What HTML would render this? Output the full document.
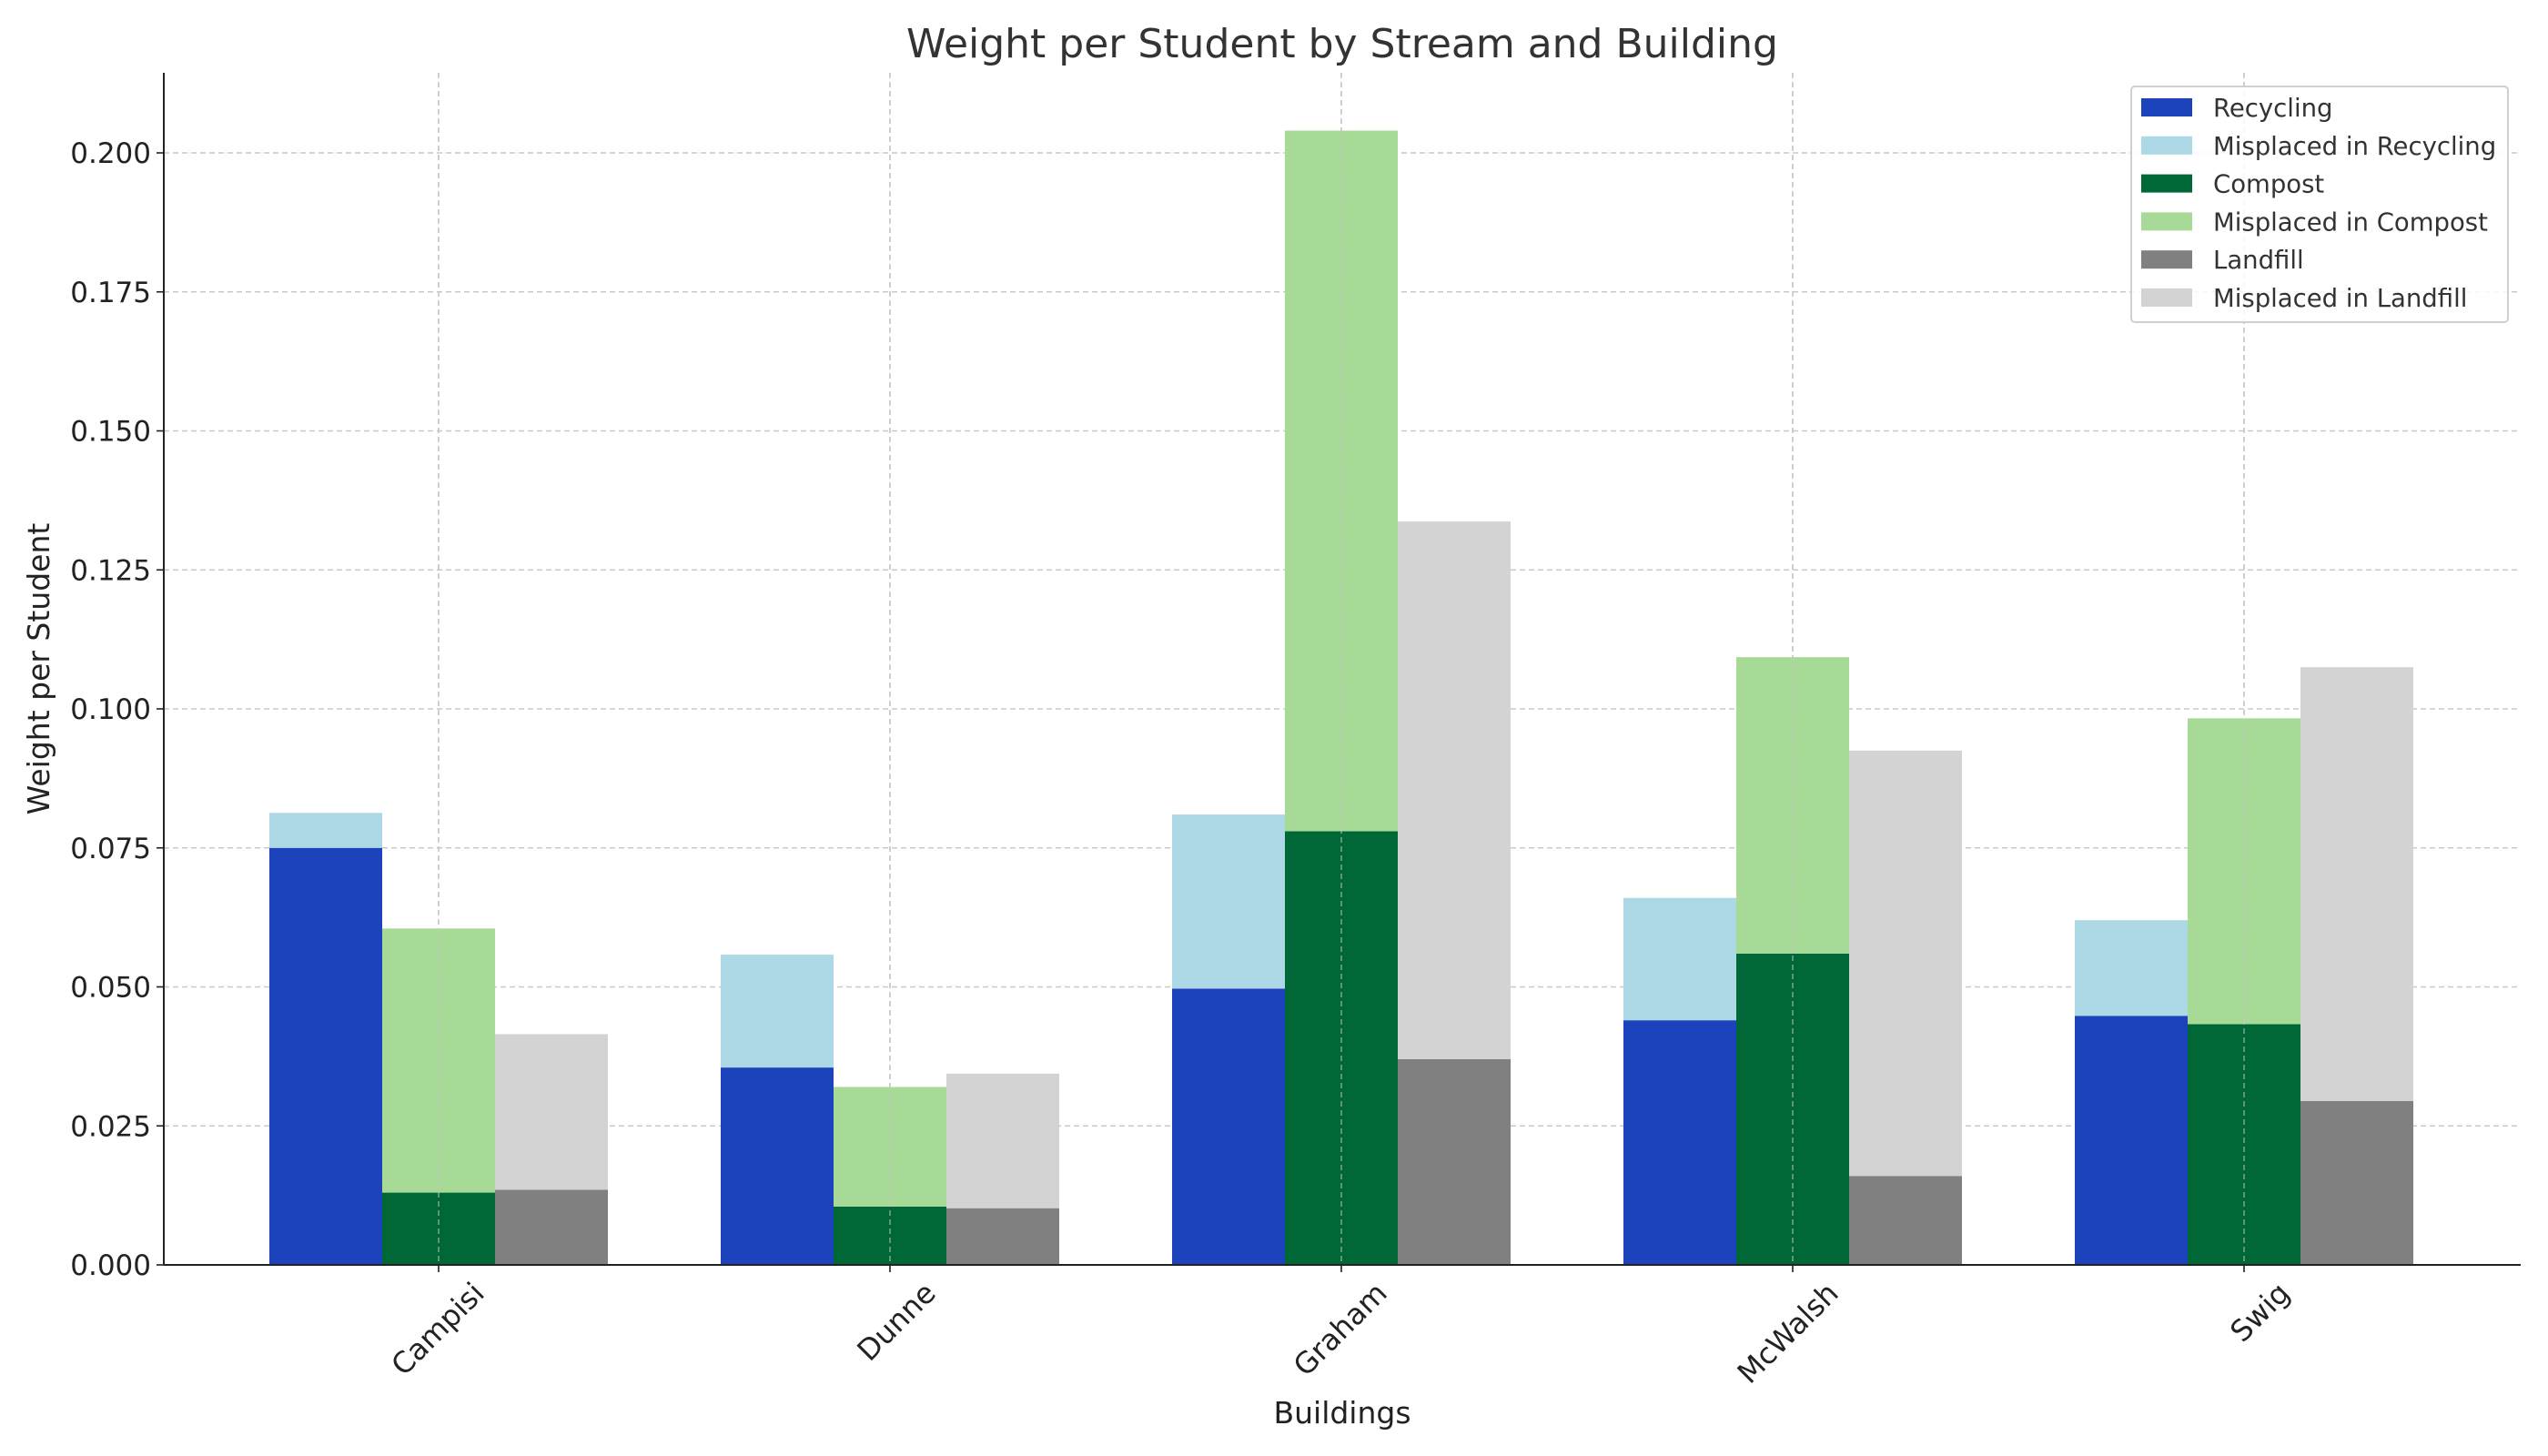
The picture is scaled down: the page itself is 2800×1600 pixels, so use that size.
<!DOCTYPE html>
<html><head><meta charset="utf-8"><style>
body{margin:0;background:#fff;}
svg{display:block;font-family:"DejaVu Sans","Liberation Sans",sans-serif;}
</style></head><body>
<svg id="chart" width="2800" height="1600" viewBox="0 0 2800 1600" xmlns="http://www.w3.org/2000/svg">
<rect width="2800" height="1600" fill="#fff"/>
<text x="1475" y="63" font-size="44" fill="#333" text-anchor="middle">Weight per Student by Stream and Building</text>
<g id="grid"></g>
<g id="bars"></g>
<g id="axes"></g>
<text transform="translate(54,735) rotate(-90)" font-size="33" fill="#222" text-anchor="middle">Weight per Student</text>
<text x="1475" y="1564" font-size="33" fill="#222" text-anchor="middle">Buildings</text>
<g id="legend"></g>
</svg>
<script>
const categories = ["Campisi","Dunne","Graham","McWalsh","Swig"];
const recycling = [0.075,0.0355,0.0497,0.044,0.0448];
const misplacedRecycling = [0.0063,0.0203,0.0313,0.022,0.0172];
const compost = [0.013,0.0105,0.078,0.056,0.0433];
const misplacedCompost = [0.0475,0.0215,0.126,0.0533,0.055];
const landfill = [0.0135,0.0102,0.037,0.016,0.0295];
const misplacedLandfill = [0.028,0.0242,0.0967,0.0765,0.078];
const yTicks = [0,0.025,0.05,0.075,0.1,0.125,0.15,0.175,0.2];
const yTickLabels = ["0.000","0.025","0.050","0.075","0.100","0.125","0.150","0.175","0.200"];
const seriesNames = ["Recycling","Misplaced in Recycling","Compost","Misplaced in Compost","Landfill","Misplaced in Landfill"];
const seriesColors = ["#1c43bb","#add8e6","#006837","#a8da97","#808080","#d3d3d3"];

const NS="http://www.w3.org/2000/svg";
const L=180,R=2770,T=80,B=1390;
const y=v=>B-v*(B-168)/0.2;
const x=i=>482+i*496;
const bw=124;
function mk(tag,attrs,parent){const e=document.createElementNS(NS,tag);for(const k in attrs)e.setAttribute(k,attrs[k]);parent.appendChild(e);return e;}
const grid=document.getElementById('grid'),bars=document.getElementById('bars'),axes=document.getElementById('axes'),legend=document.getElementById('legend');
yTicks.forEach((t,i)=>{
  const g=mk('line',{x1:L,x2:R,y1:y(t),y2:y(t),stroke:'#c8c8c8','stroke-width':1.6,'stroke-dasharray':'6,4'},grid);
  
  
  const tk=mk('line',{x1:L-8,x2:L,y1:y(t),y2:y(t),stroke:'#222','stroke-width':1.6},axes);
  
  
  const lb=mk('text',{x:L-14,y:y(t)+11,'font-size':31,fill:'#222','text-anchor':'end'},axes);
  
  
  lb.textContent=yTickLabels[i];
});
categories.forEach((c,i)=>{
  const g=mk('line',{x1:x(i),x2:x(i),y1:T,y2:B,stroke:'#c8c8c8','stroke-width':1.6,'stroke-dasharray':'6,4'},grid);
  
  
});
const groups=[[recycling,misplacedRecycling,0],[compost,misplacedCompost,2],[landfill,misplacedLandfill,4]];
categories.forEach((c,i)=>{
  groups.forEach((gr,j)=>{
    const cx=x(i)+(j-1)*bw;
    const base=gr[0][i],mis=gr[1][i];
    const r1=mk('rect',{x:cx-bw/2,width:bw,y:y(base),height:y(0)-y(base),fill:seriesColors[gr[2]]},bars);
    
    
    const r2=mk('rect',{x:cx-bw/2,width:bw,y:y(base+mis),height:y(base)-y(base+mis),fill:seriesColors[gr[2]+1]},bars);
    
    
  });
  const gl=mk('line',{x1:x(i),x2:x(i),y1:T,y2:B,stroke:'#c8c8c8','stroke-width':1.6,'stroke-dasharray':'6,4',opacity:0.6},bars);
  
  
  const tk=mk('line',{x1:x(i),x2:x(i),y1:B,y2:B+8,stroke:'#222','stroke-width':1.6},axes);
  
  
  const lb=mk('text',{transform:`translate(${x(i)+52},${B+33}) rotate(-45)`,'font-size':32,fill:'#222','text-anchor':'end'},axes);
  
  
  lb.textContent=c;
});
const ya=mk('line',{x1:L,x2:L,y1:T,y2:B,stroke:'#222','stroke-width':2},axes);


const xa=mk('line',{x1:L,x2:R,y1:B,y2:B,stroke:'#222','stroke-width':2},axes);


const box=mk('rect',{x:2342,y:95,width:414,height:259,rx:4,fill:'#fff','fill-opacity':0.85,stroke:'#d0d0d0','stroke-width':2},legend);


seriesNames.forEach((n,k)=>{
  const cy=118+k*41.8;
  const p=mk('rect',{x:2353,y:cy-10,width:56,height:20,fill:seriesColors[k]},legend);
  
  
  const t=mk('text',{x:2432,y:cy+10,'font-size':27.5,fill:'#333'},legend);
  
  
  t.textContent=n;
});
</script>
</body></html>
